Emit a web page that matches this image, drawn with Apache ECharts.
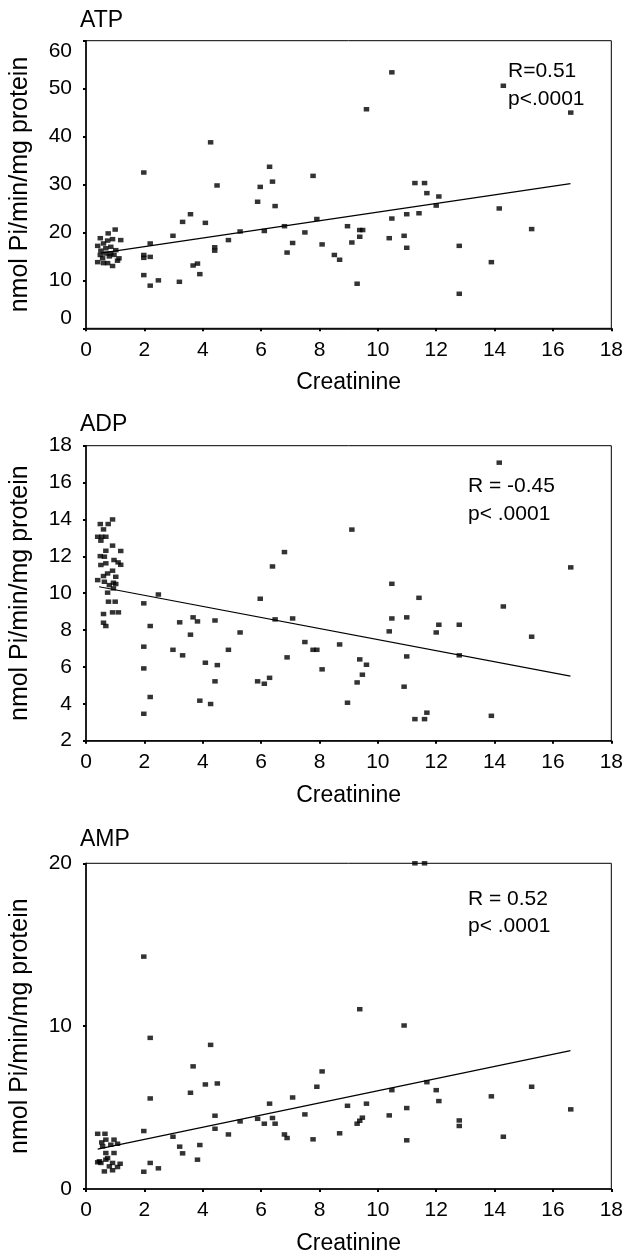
<!DOCTYPE html>
<html>
<head>
<meta charset="utf-8">
<script src="https://cdn.jsdelivr.net/npm/echarts@6/dist/echarts.min.js"></script>
<style>html,body{margin:0;padding:0;background:#fff;}#c{width:626px;height:1256px;}</style>
</head>
<body>
<div id="c"></div>
<script>
var panelTitles = ['ATP', 'ADP', 'AMP'];
var statLines = [['R=0.51', 'p<.0001'], ['R = -0.45', 'p< .0001'], ['R = 0.52', 'p< .0001']];
var xName = 'Creatinine';
var yName = 'nmol Pi/min/mg protein';
var xRange = [0, 18, 2];
var yRanges = [[0, 60, 10], [2, 18, 2], [0, 20, 10]];

var atpPoints = [
 [0.49,18.8],[0.76,19.8],[1.0,20.6],[1.19,18.4],[0.4,17.2],[0.6,17.7],[0.91,18.6],[0.51,16.2],[0.68,16.7],[0.85,17.0],
 [1.02,16.3],[0.4,13.8],[0.57,14.6],[0.74,13.6],[0.91,13.0],[1.08,14.1],[0.68,15.6],[0.96,15.3],[0.49,15.3],[0.8,15.0],
 [0.85,15.6],[1.13,14.6],[0.6,13.6],[0.74,18.3],
 [1.98,32.5],[1.98,15.3],[1.98,14.7],[1.98,11.1],[2.2,17.7],[2.2,14.9],[2.2,8.9],[2.48,10.0],[2.98,19.3],[3.2,9.7],
 [3.31,22.2],[3.58,23.8],[3.67,13.1],[3.82,13.5],[3.9,11.3],[4.09,22.0],[4.27,38.8],[4.41,16.9],[4.41,16.2],[4.49,29.8],
 [4.88,18.4],[5.28,20.2],[5.88,26.4],[5.97,29.5],[6.11,20.3],[6.29,33.7],[6.39,30.6],[6.48,25.5],[6.8,21.3],[6.89,15.8],
 [7.08,17.8],[7.5,20.0],[7.78,31.8],[7.91,22.8],[8.09,17.5],[8.51,15.3],[8.69,14.3],[8.96,21.3],[9.11,17.9],[9.29,9.3],
 [9.38,19.1],[9.38,20.5],[9.48,20.5],[9.61,45.7],[10.39,18.8],[10.48,53.4],[10.48,22.9],[10.9,19.3],[10.99,16.8],[10.99,23.8],
 [11.27,30.3],[11.41,24.0],[11.6,30.3],[11.68,28.2],[12.0,25.6],[12.09,27.5],[12.79,17.2],[12.79,7.2],[13.89,13.8],[14.16,25.0],
 [14.3,50.6],[15.27,20.7],[16.61,45.0]
];
var atpFit = [[0.5,15.7],[16.6,30.2]];

var adpPoints = [
 [0.49,13.75],[0.76,13.75],[0.91,14.0],[0.6,13.46],[0.4,13.06],[0.54,13.06],[0.68,13.06],[0.51,12.85],[0.49,12.01],[0.68,12.3],
 [0.63,11.98],[0.91,12.58],[1.19,12.29],[0.96,11.8],[1.1,11.67],[1.19,11.54],[0.51,11.53],[0.68,11.62],[0.4,10.71],[0.6,10.93],
 [0.74,11.07],[0.91,11.22],[1.02,10.89],[0.63,10.62],[0.8,10.44],[0.94,10.57],[1.02,10.5],[0.74,10.03],[0.94,10.26],[0.77,9.54],
 [1.0,9.54],[0.91,8.96],[1.11,8.96],[0.6,8.87],[0.68,8.22],[0.6,8.4],
 [1.98,9.45],[1.98,7.1],[1.98,5.92],[1.98,3.46],[2.2,8.22],[2.2,4.37],[2.48,9.93],[2.98,6.93],[3.21,8.42],[3.31,6.63],
 [3.58,7.75],[3.67,8.69],[3.82,8.47],[3.9,4.17],[4.09,6.23],[4.27,3.99],[4.42,8.52],[4.42,5.22],[4.5,6.1],[4.88,6.93],
 [5.28,7.87],[5.88,5.22],[5.97,9.7],[6.11,5.09],[6.29,5.41],[6.39,11.45],[6.48,8.58],[6.8,12.23],[6.89,6.52],[7.08,8.63],
 [7.5,7.35],[7.78,6.93],[7.91,6.93],[8.09,5.87],[8.69,7.22],[8.96,4.06],[9.11,13.45],[9.29,5.16],[9.38,6.41],[9.47,5.58],
 [9.61,6.12],[10.39,7.93],[10.48,10.51],[10.48,8.63],[10.9,4.93],[10.99,8.69],[10.99,6.57],[11.27,3.17],[11.41,9.75],[11.6,3.17],
 [11.68,3.52],[12.0,7.87],[12.09,8.29],[12.79,8.29],[12.79,6.63],[13.89,3.35],[14.16,17.08],[14.3,9.28],[15.27,7.64],[16.61,11.4]
];
var adpFit = [[0.45,10.35],[16.6,5.5]];

var ampPoints = [
 [0.4,3.39],[0.65,3.39],[0.54,2.86],[0.68,3.03],[0.96,3.03],[1.08,2.78],[0.57,2.62],[0.85,2.72],[0.46,1.7],[0.68,2.21],
 [0.96,2.21],[0.74,1.9],[0.51,1.6],[0.91,1.6],[1.17,1.55],[0.63,1.08],[0.91,1.15],[1.08,1.35],[0.8,1.39],[0.68,1.8],[0.4,1.64],
 [1.98,14.27],[1.98,3.56],[1.98,1.06],[2.2,9.28],[2.2,5.56],[2.2,1.6],[2.48,1.27],[2.98,3.21],[3.21,2.6],[3.31,2.19],
 [3.58,5.91],[3.67,7.53],[3.82,1.8],[3.9,2.7],[4.09,6.42],[4.27,8.85],[4.42,4.5],[4.42,3.7],[4.5,6.48],[4.88,3.35],
 [5.28,4.15],[5.88,4.31],[6.11,4.01],[6.29,5.24],[6.39,4.36],[6.48,4.01],[6.8,3.35],[6.89,3.13],[7.08,5.62],[7.5,4.58],
 [7.78,3.05],[7.91,6.28],[8.09,7.22],[8.69,3.42],[8.96,5.11],[9.29,4.01],[9.38,11.04],[9.38,4.19],[9.47,4.38],[9.61,5.24],
 [10.39,4.52],[10.48,6.07],[10.9,10.04],[10.99,4.97],[10.99,2.99],[11.27,20],[11.6,20],[11.68,6.56],[12.0,6.07],[12.09,5.4],
 [12.79,4.21],[12.79,3.87],[13.89,5.69],[14.3,3.21],[15.27,6.28],[16.61,4.89]
];
var ampFit = [[0.4,2.45],[16.6,8.5]];

var FONT = '"Liberation Sans", Arial, Helvetica, sans-serif';
var gridBoxes = [{top: 40.7, height: 287.6}, {top: 445.7, height: 295}, {top: 863.3, height: 326}];
var titleTops = [9, 413, 828];
var statPos = [[508, 61, 89], [468, 476, 504], [468, 889, 916]];
var pointSets = [atpPoints, adpPoints, ampPoints];
var fitSets = [atpFit, adpFit, ampFit];

var grids = [], xAxes = [], yAxes = [], series = [], graphics = [];
for (var i = 0; i < 3; i++) {
  grids.push({left: 81.5, right: 13, top: gridBoxes[i].top, height: gridBoxes[i].height,
    show: true, borderColor: '#000', borderWidth: 1, backgroundColor: 'transparent'});
  xAxes.push({type: 'value', gridIndex: i, min: xRange[0], max: xRange[1], interval: xRange[2],
    name: xName, nameLocation: 'middle', nameGap: 43,
    nameTextStyle: {fontFamily: FONT, fontSize: 23, color: '#000'},
    axisLine: {show: true, onZero: false, lineStyle: {color: '#000', width: 1.5}},
    axisTick: {show: true, inside: false, length: 3, lineStyle: {color: '#000', width: 2}},
    axisLabel: {fontFamily: FONT, fontSize: 21, color: '#000', margin: 11},
    splitLine: {show: false}});
  var yl = {fontFamily: FONT, fontSize: 21, color: '#000', margin: 14};
  if (i === 0) { yl.verticalAlignMinLabel = 'bottom'; yl.verticalAlignMaxLabel = 'top'; }
  yAxes.push({type: 'value', gridIndex: i, min: yRanges[i][0], max: yRanges[i][1], interval: yRanges[i][2],
    name: yName, nameLocation: 'middle', nameRotate: 90, nameGap: 53,
    nameTextStyle: {fontFamily: FONT, fontSize: 25, color: '#000'},
    axisLine: {show: true, onZero: false, lineStyle: {color: '#000', width: 1.5}},
    axisTick: {show: true, inside: false, length: 3, lineStyle: {color: '#000', width: 2}},
    axisLabel: yl,
    splitLine: {show: false}});
  series.push({type: 'scatter', xAxisIndex: i, yAxisIndex: i, data: pointSets[i],
    symbol: 'rect', symbolSize: [5.5, 4.5], clip: false,
    itemStyle: {color: '#000'}, emphasis: {disabled: true}, silent: true, z: 3});
  series.push({type: 'line', xAxisIndex: i, yAxisIndex: i, data: fitSets[i],
    symbol: 'none', lineStyle: {color: '#000', width: 1.2}, silent: true, z: 2});
  graphics.push({type: 'text', left: 80, top: titleTops[i],
    style: {text: panelTitles[i], font: '23px ' + FONT, fill: '#000'}});
  graphics.push({type: 'text', left: statPos[i][0], top: statPos[i][1],
    style: {text: statLines[i][0], font: '21px ' + FONT, fill: '#000'}});
  graphics.push({type: 'text', left: statPos[i][0], top: statPos[i][2],
    style: {text: statLines[i][1], font: '21px ' + FONT, fill: '#000'}});
}

var chart = echarts.init(document.getElementById('c'), null, {renderer: 'canvas'});
chart.setOption({
  animation: false,
  backgroundColor: '#fff',
  grid: grids, xAxis: xAxes, yAxis: yAxes, series: series, graphic: graphics
});
</script>
</body>
</html>
